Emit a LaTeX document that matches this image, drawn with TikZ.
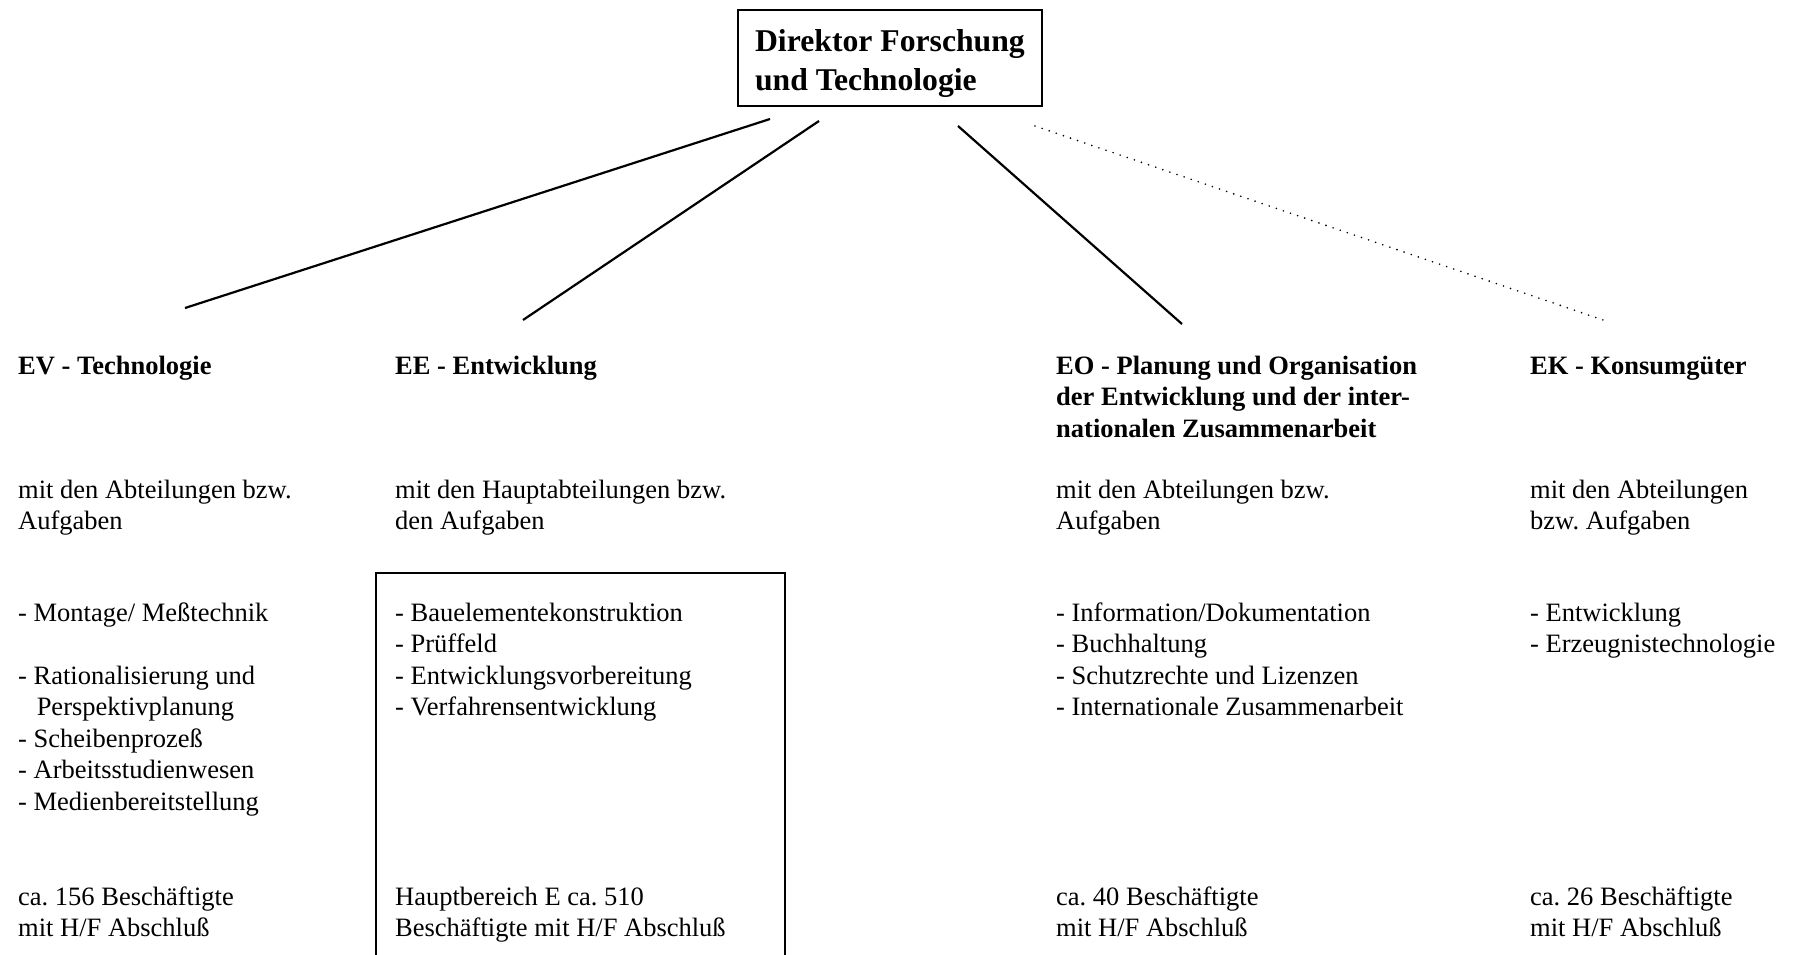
\documentclass[tikz,border=0pt]{standalone}
\usepackage{fontspec}
\setmainfont{Liberation Serif}
\frenchspacing
\begin{document}
\begin{tikzpicture}[x=1pt,y=-1pt,
  txt/.style={anchor=base west, inner sep=0pt, align=left, font=\fontsize{26.5}{31.5}\selectfont\frenchspacing},
  head/.style={txt, font=\fontsize{26.5}{31.5}\selectfont\bfseries},
  titlebox/.style={draw, line width=2.2pt, anchor=north west, align=left, inner xsep=17pt, inner ysep=8.6pt, minimum width=303pt, font=\fontsize{31.7}{39.5}\selectfont\bfseries},
  conn/.style={line width=2.2pt},
  dotconn/.style={line width=1.8pt, dash pattern=on 0pt off 7.5pt, line cap=round},
  boxline/.style={line width=2pt}]
\useasboundingbox (0,0) rectangle (1794,954);

\node[titlebox] (top) at (737,9) {\rule{0pt}{32.4pt}Direktor Forschung\\und Technologie};

% headings (anchor = baseline of the last line)
\node[head] (ev) at (18,374) {EV - Technologie};
\node[head] (ee) at (395,374) {EE - Entwicklung};
\node[head] (eo) at (1056,437) {EO - Planung und Organisation\\der Entwicklung und der inter-\\nationalen Zusammenarbeit};
\node[head] (ek) at (1530,374) {EK - Konsumgüter};

% "mit den ..."
\node[txt] (evm) at (18,529.5) {mit den Abteilungen bzw.\\Aufgaben};
\node[txt] (eem) at (395,529.5) {mit den Hauptabteilungen bzw.\\den Aufgaben};
\node[txt] (eom) at (1056,529.5) {mit den Abteilungen bzw.\\Aufgaben};
\node[txt] (ekm) at (1530,529.5) {mit den Abteilungen\\bzw. Aufgaben};

% lists
\node[txt] (evl) at (18,810) {- Montage/ Meßtechnik\\[31.5pt]- Rationalisierung und\\\hspace*{0.7em}Perspektivplanung\\- Scheibenprozeß\\- Arbeitsstudienwesen\\- Medienbereitstellung};
\node[txt] (eel) at (395,715.5) {- Bauelementekonstruktion\\- Prüffeld\\- Entwicklungsvorbereitung\\- Verfahrensentwicklung};
\node[txt] (eol) at (1056,715.5) {- Information/Dokumentation\\- Buchhaltung\\- Schutzrechte und Lizenzen\\- Internationale Zusammenarbeit};
\node[txt] (ekl) at (1530,652.5) {- Entwicklung\\- Erzeugnistechnologie};

% bottom counts
\node[txt] (evb) at (18,936.5) {ca. 156 Beschäftigte\\mit H/F Abschluß};
\node[txt] (eeb) at (395,936.5) {Hauptbereich E ca. 510\\Beschäftigte mit H/F Abschluß};
\node[txt] (eob) at (1056,936.5) {ca. 40 Beschäftigte\\mit H/F Abschluß};
\node[txt] (ekb) at (1530,936.5) {ca. 26 Beschäftigte\\mit H/F Abschluß};

% EE frame (open at the bottom edge)
\coordinate (fbl) at (376,956);
\coordinate (ftl) at (376,573);
\coordinate (ftr) at (785,573);
\coordinate (fbr) at (785,956);
\draw[boxline] (fbl) -- (ftl) -- (ftr) -- (fbr);

% connectors
\coordinate (c1a) at (770,119); \coordinate (c1b) at (185,308);
\coordinate (c2a) at (819,121); \coordinate (c2b) at (523,320);
\coordinate (c3a) at (958,126); \coordinate (c3b) at (1182,324);
\coordinate (c4a) at (1035,126); \coordinate (c4b) at (1606,321);
\draw[conn] (c1a) -- (c1b);
\draw[conn] (c2a) -- (c2b);
\draw[conn] (c3a) -- (c3b);
\draw[dotconn] (c4a) -- (c4b);
\end{tikzpicture}
\end{document}
